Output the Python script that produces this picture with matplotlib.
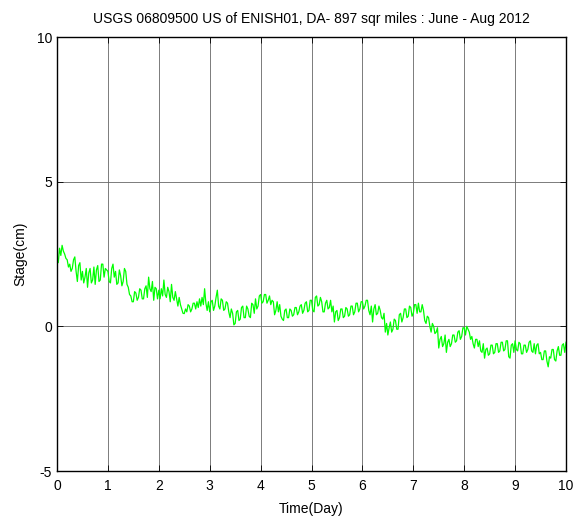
import matplotlib
matplotlib.use("Agg")
import matplotlib.pyplot as plt
import numpy as np

plt.rcParams['font.family'] = ['Liberation Sans', 'DejaVu Sans']
plt.rcParams['axes.unicode_minus'] = False

# Stage readings every 0.025 day
day0 = [2.4, 2.2, 2.7, 2.45, 2.8, 2.6, 2.5, 2.35, 2.3, 2.05, 2.15, 1.9, 2.0, 2.3, 2.4, 1.9, 1.55, 2.1, 2.2, 1.6,
        1.9, 1.5, 1.7, 2.0, 1.35, 1.85, 2.0, 1.5, 1.6, 2.05, 1.45, 1.95, 2.1, 1.55, 1.6, 2.15, 2.15, 1.7, 2.0, 1.95]
day1 = [1.9, 1.55, 1.5, 2.0, 2.15, 1.7, 1.9, 1.45, 1.5, 1.95, 1.75, 1.4, 1.55, 2.0, 1.9, 1.45, 1.35, 1.1, 1.05, 0.85,
        0.85, 1.2, 1.15, 0.9, 1.0, 1.3, 1.25, 0.95, 0.95, 1.3, 1.4, 1.0, 1.7, 1.3, 1.2, 1.55, 0.9, 1.35, 1.3, 0.95]
day2 = [1.25, 0.95, 1.3, 1.05, 1.6, 1.1, 1.0, 1.35, 1.2, 0.85, 1.45, 1.0, 0.9, 1.2, 0.95, 0.7, 1.0, 0.75, 0.6, 0.45,
        0.44, 0.6, 0.5, 0.75, 0.7, 0.5, 0.6, 0.8, 0.8, 0.6, 0.85, 0.65, 0.95, 0.7, 1.0, 0.75, 1.3, 0.8, 0.55, 0.85]
day3 = [0.5, 0.85, 0.9, 0.55, 0.7, 1.0, 1.25, 0.7, 0.6, 0.95, 0.9, 0.55, 0.6, 0.85, 0.8, 0.5, 0.3, 0.6, 0.45, 0.05,
        0.1, 0.5, 0.55, 0.2, 0.25, 0.65, 0.7, 0.3, 0.3, 0.7, 0.6, 0.35, 0.3, 0.8, 0.75, 0.45, 0.95, 0.6, 0.7, 1.05]
day4 = [1.1, 0.8, 0.85, 1.1, 1.1, 0.8, 0.9, 1.05, 0.75, 0.9, 0.85, 0.4, 0.55, 0.85, 0.5, 0.75, 0.35, 0.25, 0.2, 0.55,
        0.6, 0.3, 0.3, 0.6, 0.55, 0.35, 0.4, 0.65, 0.65, 0.4, 0.5, 0.7, 0.75, 0.45, 0.55, 0.8, 0.85, 0.5, 0.55, 0.9]
day5 = [0.9, 0.55, 0.5, 1.0, 1.05, 0.7, 0.75, 1.0, 0.85, 0.5, 0.5, 0.8, 0.9, 0.6, 0.65, 0.9, 0.5, 0.7, 0.15, 0.5,
        0.55, 0.2, 0.3, 0.6, 0.6, 0.3, 0.35, 0.65, 0.6, 0.35, 0.4, 0.7, 0.7, 0.4, 0.5, 0.8, 0.8, 0.5, 0.6, 0.85]
day6 = [0.85, 0.6, 0.7, 0.9, 0.9, 0.55, 0.4, 0.7, 0.15, 0.6, 0.75, 0.4, 0.45, 0.7, 0.55, 0.3, 0.25, 0.45, -0.2, 0.1,
        -0.3, -0.05, 0.15, -0.2, -0.1, 0.25, 0.2, -0.1, -0.1, 0.4, 0.45, 0.15, 0.3, 0.6, 0.6, 0.3, 0.35, 0.7, 0.65, 0.35]
day7 = [0.45, 0.75, 0.75, 0.45, 0.8, 0.5, 0.5, 0.75, 0.55, 0.2, 0.1, 0.35, 0.3, 0.0, -0.2, 0.1, 0.0, -0.25, -0.2, -0.05,
        -0.75, -0.45, -0.35, -0.7, -0.6, -0.3, -0.9, -0.55, -0.45, -0.7, -0.6, -0.3, -0.3, -0.55, -0.5, -0.2, -0.15, -0.45, -0.35, -0.05]
day8 = [-0.05, -0.3, 0.0, -0.1, -0.2, -0.45, -0.35, -0.6, -0.75, -0.45, -0.45, -0.7, -0.5, -0.85, -0.9, -0.6, -1.1, -0.8, -0.75, -1.0,
        -0.95, -0.65, -0.65, -0.95, -0.9, -0.6, -0.6, -0.9, -0.85, -0.55, -0.55, -0.85, -0.8, -0.5, -0.5, -1.05, -1.1, -0.65, -0.6, -0.9]
day9 = [-0.5, -0.8, -0.85, -0.55, -0.6, -0.95, -0.95, -0.65, -0.65, -0.9, -0.8, -0.55, -0.5, -0.85, -0.9, -0.6, -0.95, -0.65, -0.6, -0.95,
        -0.9, -1.15, -1.15, -0.85, -0.85, -1.2, -1.4, -1.05, -1.1, -0.8, -0.8, -1.15, -1.2, -0.85, -0.7, -1.0, -1.0, -0.65, -0.6, -0.9, -0.55]

stage = day0 + day1 + day2 + day3 + day4 + day5 + day6 + day7 + day8 + day9
time_day = np.linspace(0, 10, len(stage))

xticks = [0, 1, 2, 3, 4, 5, 6, 7, 8, 9, 10]
yticks = [-5, 0, 5, 10]

fig = plt.figure(figsize=(5.75, 5.19), dpi=100)
ax = fig.add_axes([57/575, 1 - 471/519, (566 - 57)/575, (471 - 37)/519])
ax.plot(time_day, stage, color='#00ff00', linewidth=0.9)

ax.set_xlim(0, 10)
ax.set_ylim(-5, 10)
ax.set_xticks(xticks)
ax.set_yticks(yticks)
ax.grid(True, color='#666666', linewidth=0.6, linestyle='-')
ax.tick_params(direction='in', top=True, right=True, labelsize=10, length=4, width=0.6)
ax.tick_params(axis='x', pad=6)
for s in ax.spines.values():
    s.set_linewidth(1.0)

ax.set_title('USGS 06809500 US of ENISH01, DA- 897 sqr miles : June - Aug 2012', fontsize=10, pad=10)
ax.set_xlabel('Time(Day)', fontsize=10, labelpad=6)
ax.set_ylabel('Stage(cm)', fontsize=10, labelpad=7)

fig.savefig('out.png', dpi=100)
